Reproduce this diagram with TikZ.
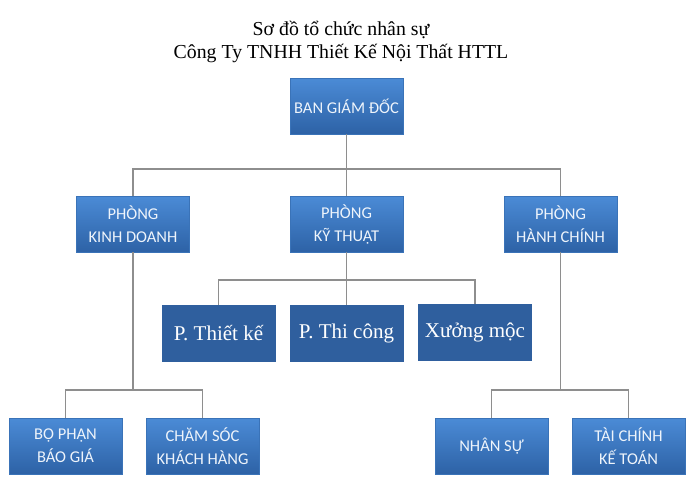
\documentclass[tikz,border=0pt]{standalone}
\usepackage{fontspec}
\setmainfont{Liberation Serif}
\newfontfamily\boxfont{Carlito}
\usetikzlibrary{positioning}
\definecolor{boxtop}{HTML}{4B8BD6}
\definecolor{boxbot}{HTML}{2D62A6}
\definecolor{boxedge}{HTML}{3A73B8}
\definecolor{darkbox}{HTML}{2F5F9E}
\definecolor{boxtext}{HTML}{EEF4FB}
\definecolor{linegray}{HTML}{8E8E8E}

\begin{document}
\begin{tikzpicture}[x=1pt, y=-1pt,
  unit/.style={draw=boxedge, line width=0.6pt, top color=boxtop, bottom color=boxbot,
    minimum width=113pt, minimum height=56pt, inner sep=0pt, align=center,
    text=boxtext, font=\boxfont\fontsize{16.5}{23}\selectfont},
  team/.style={draw=darkbox, fill=darkbox, minimum width=113pt, minimum height=56pt,
    inner sep=0pt, text=white, font=\fontsize{21}{24}\selectfont},
  conn/.style={linegray, line width=1.1pt}]

\useasboundingbox (0,0) rectangle (693,480);

% Title
\node[align=center, font=\fontsize{19.8}{23.5}\selectfont] (title) at (341,42)
  {Sơ đồ tổ chức nhân sự\\Công Ty TNHH Thiết Kế Nội Thất HTTL};

% ========== Board ==========
\node[unit] (ban) at (346.5,106) {BAN GIÁM ĐỐC};

% ========== Departments ==========
\node[unit] (kd) at (133,224) {PHÒNG\\KINH DOANH};
\node[unit] (kt) at (346.5,224) {PHÒNG\\KỸ THUẬT};
\node[unit] (hc) at (560.5,224) {PHÒNG\\HÀNH CHÍNH};

% ========== Technical teams ==========
\node[team] (tk) at (218.5,333) {P. Thiết kế};
\node[team] (tc) at (346.5,333) {P. Thi công};
\node[team] (xm) at (475,332) {Xưởng mộc};

% ========== Sections ==========
\node[unit] (bp) at (65.5,446) {BỘ PHẬN\\BÁO GIÁ};
\node[unit] (cs) at (202.5,446) {CHĂM SÓC\\KHÁCH HÀNG};
\node[unit] (ns) at (491.5,446) {NHÂN SỰ};
\node[unit] (tck) at (628.5,446) {TÀI CHÍNH\\KẾ TOÁN};

% Connectors
\coordinate (bus1) at (346.5,169);
\coordinate (bus2) at (346.5,280);
\coordinate (bus3) at (133,390);
\coordinate (bus4) at (560.5,390);

\draw[conn] (ban.south) -- (kt.north);
\draw[conn] (kd.north) |- (bus1) -| (hc.north);
\draw[conn] (kt.south) -- (tc.north);
\draw[conn] (tk.north) |- (bus2) -| (xm.north);
\draw[conn] (kd.south) -- (bus3);
\draw[conn] (bp.north) |- (bus3) -| (cs.north);
\draw[conn] (hc.south) -- (bus4);
\draw[conn] (ns.north) |- (bus4) -| (tck.north);

\end{tikzpicture}
\end{document}
